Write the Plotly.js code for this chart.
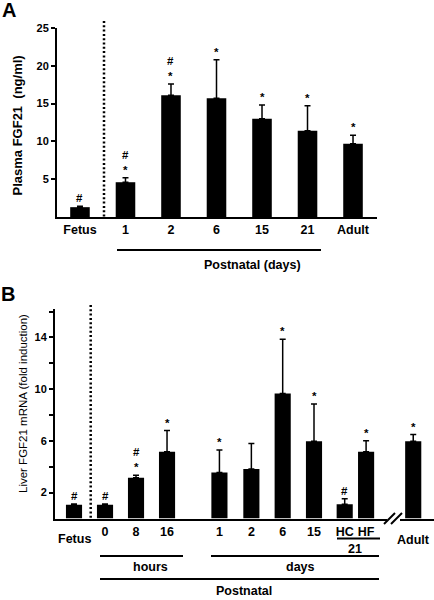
<!DOCTYPE html>
<html>
<head>
<meta charset="utf-8">
<script src="https://cdn.plot.ly/plotly-3.0.1.min.js"></script>
<style>html,body{margin:0;padding:0;background:#fff;}#chart{width:434px;height:600px;}</style>
</head>
<body>
<div id="chart"></div>
<script>
// ---- Panel A data: plasma FGF21 (ng/ml) ----
const catsA = ['Fetus', '1', '2', '6', '15', '21', 'Adult'];
const plasmaMean = [1.3, 4.6, 16.1, 15.7, 13.0, 11.4, 9.7];
const plasmaErr = [0.12, 0.6, 1.5, 5.1, 1.8, 3.3, 1.1];
const sigA = ['#', '#*', '#*', '*', '*', '*', '*'];

// ---- Panel B data: liver FGF21 mRNA (fold induction) ----
const catsB = ['Fetus', '0', '8', '16', '1', '2', '6', '15', 'HC', 'HF', 'Adult'];
const liverMean = [1.07, 1.07, 3.16, 5.17, 3.55, 3.83, 9.66, 5.97, 1.1, 5.17, 5.97];
const liverErr = [0.05, 0.05, 0.18, 1.63, 1.75, 1.97, 4.21, 2.89, 0.43, 0.85, 0.52];
const sigB = ['#', '#', '#*', '*', '*', '', '*', '*', '#', '*', '*'];
// slot positions along panel B's axis (uneven grouping)
const slotB = [0, 1, 2, 3, 4.69, 5.72, 6.73, 7.74, 8.73, 9.42, 10.94];

const W = 434, H = 600;
const fx = v => v / W;
const fy = v => 1 - v / H;
const FONT = '"Liberation Sans", Arial, sans-serif';
const bold = (size) => ({family: FONT, size: size, color: '#000', weight: 'bold'});

const traces = [
  {
    type: 'bar', x: catsA, y: plasmaMean, xaxis: 'x', yaxis: 'y',
    width: 0.43, marker: {color: '#000', line: {width: 0}},
    error_y: {type: 'data', symmetric: false, array: plasmaErr, arrayminus: plasmaErr.map(() => 0),
              color: '#000', thickness: 1.5, width: 3},
    hoverinfo: 'skip'
  },
  {
    type: 'bar', x: slotB, y: liverMean, xaxis: 'x2', yaxis: 'y2',
    width: 0.52, marker: {color: '#000', line: {width: 0}},
    error_y: {type: 'data', symmetric: false, array: liverErr, arrayminus: liverErr.map(() => 0),
              color: '#000', thickness: 1.5, width: 3},
    hoverinfo: 'skip'
  }
];

const annotations = [];
function addSig(xs, means, errs, sigs, xref, yref) {
  sigs.forEach((s, i) => {
    if (!s) return;
    annotations.push({
      x: xs[i], y: means[i] + errs[i], xref: xref, yref: yref,
      text: s.split('').join('<br>'), showarrow: false,
      yanchor: 'bottom', yshift: 1, borderpad: 0,
      font: {family: FONT, size: 11.5, color: '#000', weight: 'bold'}
    });
  });
}
// category axis: place marks by category index
addSig(catsA.map((c, i) => i), plasmaMean, plasmaErr, sigA, 'x', 'y');
addSig(slotB, liverMean, liverErr, sigB, 'x2', 'y2');

function txt(text, x, y, size, extra) {
  annotations.push(Object.assign({
    x: fx(x), y: fy(y), xref: 'paper', yref: 'paper', text: text, showarrow: false,
    xanchor: 'center', yanchor: 'middle', font: bold(size)
  }, extra || {}));
}
// panel letters
txt('A', 9, 10, 20);
txt('B', 8, 294, 20);
// axis titles
txt('Plasma FGF21  (ng/ml)', 17, 125.5, 13, {textangle: -90});
txt('Liver FGF21 mRNA (fold induction)', 23, 404, 11.5, {textangle: -90, font: {family: FONT, size: 11.5, color: '#000'}});
// panel A group label
txt('Postnatal (days)', 252, 265, 12.5);
// panel B labels
annotations.push({x: slotB[0], y: fy(539), xref: 'x2', yref: 'paper', text: catsB[0], showarrow: false,
  yanchor: 'middle', font: bold(12.5)});
annotations.push({x: slotB[10], y: fy(540), xref: 'x2', yref: 'paper', text: catsB[10], showarrow: false,
  yanchor: 'middle', font: bold(12.5)});
annotations.push({x: (slotB[8] + slotB[9]) / 2, y: fy(549), xref: 'x2', yref: 'paper', text: '21', showarrow: false,
  yanchor: 'middle', font: bold(12.5)});
txt('hours', 150, 567, 12.5);
txt('days', 300, 567, 12.5);
txt('Postnatal', 244, 600, 12.5, {yanchor: 'bottom'});

function hline(x0, x1, y, w) {
  return {type: 'line', xref: 'paper', yref: 'paper', x0: fx(x0), x1: fx(x1), y0: fy(y), y1: fy(y),
          line: {color: '#000', width: w || 2}};
}
const shapes = [
  // dotted separators
  {type: 'line', xref: 'paper', yref: 'paper', x0: fx(104), x1: fx(104), y0: fy(21), y1: fy(217),
   line: {color: '#000', width: 2.5, dash: '2px,2.3px'}},
  {type: 'line', xref: 'paper', yref: 'paper', x0: fx(90.7), x1: fx(90.7), y0: fy(305), y1: fy(519),
   line: {color: '#000', width: 2.5, dash: '2px,2.3px'}},
  // group underlines
  hline(117, 321, 250),
  hline(337, 380, 538.5),
  hline(100, 183, 556),
  hline(211, 379, 556),
  hline(100, 379, 579),
  // axis break
  {type: 'rect', xref: 'paper', yref: 'paper', x0: fx(387), x1: fx(400), y0: fy(522), y1: fy(516),
   fillcolor: '#fff', line: {width: 0}},
  {type: 'line', xref: 'paper', yref: 'paper', x0: fx(384), x1: fx(395), y0: fy(524), y1: fy(513),
   line: {color: '#000', width: 2}},
  {type: 'line', xref: 'paper', yref: 'paper', x0: fx(391), x1: fx(402), y0: fy(524), y1: fy(513),
   line: {color: '#000', width: 2}}
];

const layout = {
  width: W, height: H,
  margin: {l: 0, r: 0, t: 0, b: 0},
  paper_bgcolor: '#fff', plot_bgcolor: '#fff',
  showlegend: false,
  font: {family: FONT, color: '#000'},
  xaxis: {
    domain: [fx(57), fx(377)], anchor: 'y', type: 'category',
    range: [-0.505, 6.527], showline: true, linewidth: 2, linecolor: '#000',
    ticks: '', showgrid: false, zeroline: false, tickfont: bold(12.5)
  },
  yaxis: {
    domain: [fy(217), fy(28)], anchor: 'x', range: [0, 25],
    tickvals: [5, 10, 15, 20, 25], ticks: 'outside', ticklen: 4, tickwidth: 2, tickcolor: '#000',
    showline: true, linewidth: 2, linecolor: '#000', showgrid: false, zeroline: false,
    tickfont: bold(11)
  },
  xaxis2: {
    domain: [fx(55), 1], anchor: 'y2', type: 'linear',
    range: [-0.613, 11.61], showline: true, linewidth: 2, linecolor: '#000',
    tickvals: slotB.slice(1, 10), ticktext: catsB.slice(1, 10),
    ticks: '', showgrid: false, zeroline: false, tickfont: bold(12.5)
  },
  yaxis2: {
    domain: [fy(518.5), fy(309)], anchor: 'x2', range: [0, 16.2],
    tickvals: [2, 4, 6, 8, 10, 12, 14, 16], ticktext: ['2', '', '6', '', '10', '', '14', ''],
    ticks: 'outside', ticklen: 4, tickwidth: 2, tickcolor: '#000',
    showline: true, linewidth: 2, linecolor: '#000', showgrid: false, zeroline: false,
    tickfont: bold(11)
  },
  annotations: annotations,
  shapes: shapes
};

Plotly.newPlot('chart', traces, layout, {staticPlot: true, displayModeBar: false});
</script>
</body>
</html>
